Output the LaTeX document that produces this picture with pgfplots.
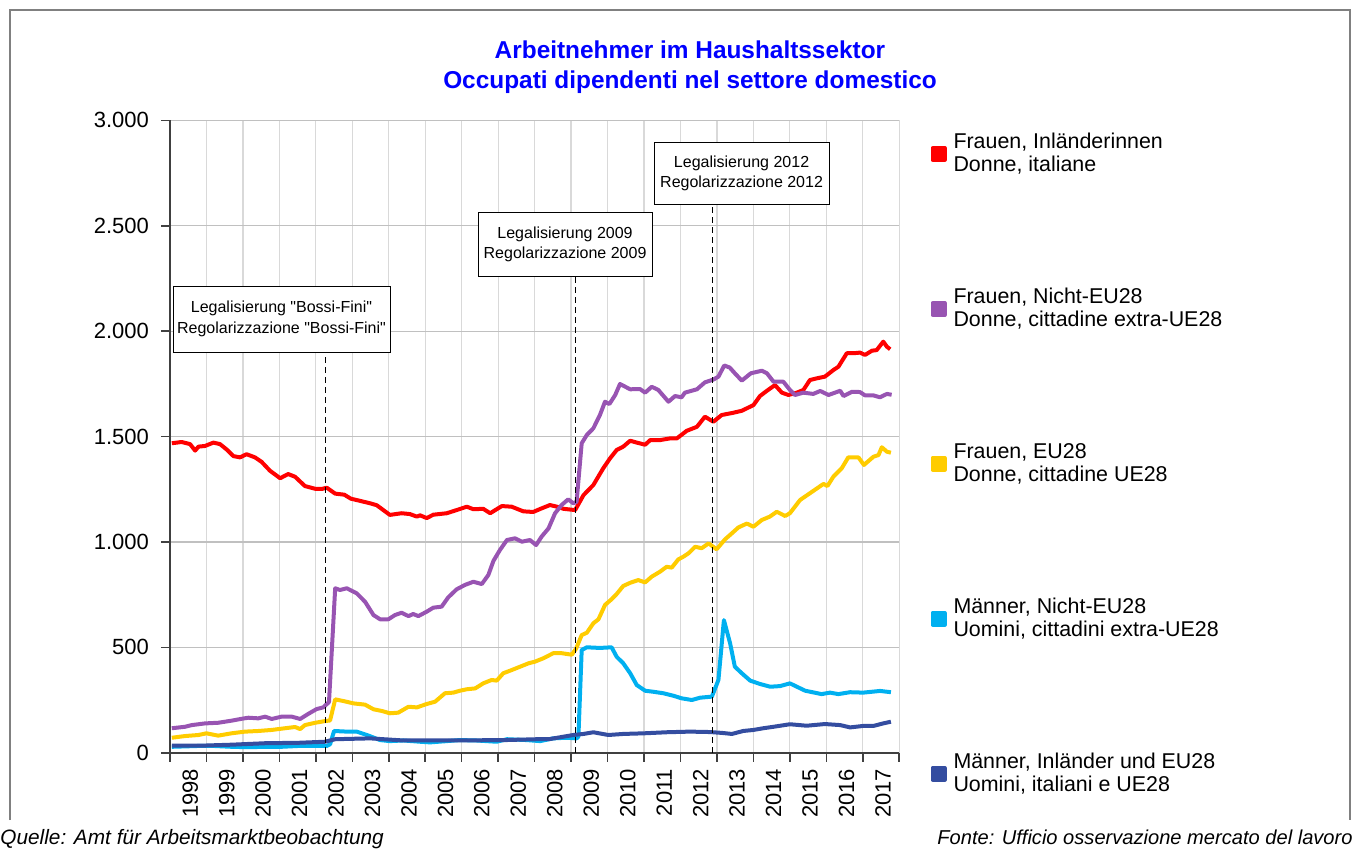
\documentclass[border=0pt]{standalone}
\usepackage{fontspec}
\setmainfont{Liberation Sans}
\usepackage{pgfplots}
\pgfplotsset{compat=1.18}

\definecolor{serRed}{RGB}{255,0,0}
\definecolor{serPurple}{RGB}{152,84,178}
\definecolor{serYellow}{RGB}{255,204,0}
\definecolor{serCyan}{RGB}{0,176,240}
\definecolor{serNavy}{RGB}{52,77,160}
\definecolor{gridV}{RGB}{217,217,217}
\definecolor{gridH}{RGB}{192,192,192}
\definecolor{axisGray}{RGB}{64,64,64}
\definecolor{titleBlue}{RGB}{0,0,255}

\begin{document}
\begin{tikzpicture}
\useasboundingbox (0pt,0pt) rectangle (680pt,424pt);
% frame
\draw[gray, line width=0.6pt] (5pt,14pt) -- (5pt,419pt) -- (675pt,419pt) -- (675pt,14pt);
% title
\node[align=center, font=\bfseries\fontsize{12.2}{15}\selectfont, text=titleBlue]
  at (345pt,390.5pt) {Arbeitnehmer im Haushaltssektor\\Occupati dipendenti nel settore domestico};
% sources
\node[anchor=base west, inner sep=0pt, font=\itshape\fontsize{10.4}{12}\selectfont] at (0pt,2pt)
  {Quelle: Amt für Arbeitsmarktbeobachtung};
\node[anchor=base east, inner sep=0pt, font=\itshape\fontsize{10.05}{12}\selectfont] at (676.5pt,2pt)
  {Fonte: Ufficio osservazione mercato del lavoro};

\begin{axis}[
  at={(85pt,47.65pt)}, anchor=south west,
  scale only axis, width=364.65pt, height=316.2pt,
  xmin=1998, xmax=2018, ymin=0, ymax=3000,
  axis x line*=bottom, axis y line*=left,
  axis line style={draw=axisGray, line width=1pt, -},
  tick align=outside,
  tick style={draw=axisGray, line width=0.8pt},
  major tick length=4.5pt,
  xtick={1998,...,2018},
  x tick label as interval,
  ytick={0,500,...,3000},
  yticklabels={0,500,{1.000},{1.500},{2.000},{2.500},{3.000}},
  grid=major,
  x grid style={gridV, line width=0.6pt},
  y grid style={gridH, line width=0.6pt},
  ticklabel style={font=\fontsize{11}{13}\selectfont},
  /pgf/number format/assume math mode=true,
  xticklabel style={rotate=90, anchor=east, yshift=-1pt, /pgf/number format/1000 sep={}},
  yticklabel style={xshift=-2.5pt},
  legend cell align=left,
  legend style={at={(1.0428,0.980)}, anchor=north west, draw=none, fill=none,
    inner sep=0pt, outer sep=0pt, row sep=56.6pt, column sep=3.5pt,
    font=\fontsize{10.7}{11.7}\selectfont, nodes={align=left, inner sep=0pt}},
  legend image code/.code={\fill[#1] (0pt,-3pt) rectangle (6pt,3pt);},
  every axis plot/.append style={line width=2pt, line join=round, no marks},
]

\addplot[color=serRed] coordinates {
(1998.05,1468) (1998.32,1474) (1998.55,1464) (1998.69,1433) (1998.78,1452) (1998.96,1455)
(1999.19,1471) (1999.37,1464) (1999.55,1439) (1999.74,1407) (1999.92,1401) (2000.10,1416)
(2000.33,1401) (2000.51,1380) (2000.74,1338) (2001.02,1302) (2001.24,1322) (2001.43,1309)
(2001.70,1265) (2001.98,1252) (2002.16,1251) (2002.30,1257) (2002.53,1229) (2002.78,1224)
(2002.96,1205) (2003.23,1194) (2003.49,1183) (2003.67,1174) (2003.85,1151) (2004.03,1128)
(2004.35,1136) (2004.58,1132) (2004.77,1120) (2004.86,1126) (2005.04,1113) (2005.22,1129)
(2005.59,1136) (2005.86,1151) (2006.14,1167) (2006.32,1155) (2006.59,1157) (2006.78,1136)
(2007.10,1170) (2007.37,1167) (2007.69,1145) (2007.96,1142) (2008.19,1159) (2008.42,1175)
(2008.61,1167) (2008.79,1157) (2009.11,1151) (2009.34,1222) (2009.61,1270) (2009.88,1349)
(2010.07,1397) (2010.25,1436) (2010.43,1452) (2010.62,1480) (2010.80,1471) (2011.03,1461)
(2011.17,1483) (2011.44,1483) (2011.71,1491) (2011.90,1491) (2012.17,1527) (2012.45,1546)
(2012.67,1594) (2012.90,1570) (2013.13,1602) (2013.43,1612) (2013.68,1622) (2014.00,1649)
(2014.18,1692) (2014.37,1717) (2014.59,1744) (2014.78,1708) (2014.96,1697) (2015.19,1708)
(2015.37,1721) (2015.55,1768) (2015.74,1776) (2015.96,1784) (2016.19,1815) (2016.33,1831)
(2016.56,1895) (2016.74,1895) (2016.92,1898) (2017.06,1887) (2017.25,1907) (2017.38,1910)
(2017.56,1950) (2017.66,1926) (2017.75,1914)
};
\addlegendentry{Frauen, Inländerinnen\\Donne, italiane}

\addplot[color=serPurple] coordinates {
(1998.05,116) (1998.41,123) (1998.60,131) (1998.96,139) (1999.32,142) (1999.69,152)
(1999.97,161) (2000.15,166) (2000.42,163) (2000.61,171) (2000.79,160) (2001.06,171)
(2001.34,171) (2001.57,160) (2001.79,184) (2002.02,207) (2002.20,215) (2002.36,240)
(2002.53,780) (2002.66,772) (2002.85,780) (2003.12,756) (2003.35,716) (2003.58,653)
(2003.76,633) (2003.99,633) (2004.17,653) (2004.35,664) (2004.54,648) (2004.67,658)
(2004.81,648) (2005.04,669) (2005.22,688) (2005.45,693) (2005.63,737) (2005.86,775)
(2006.09,796) (2006.32,811) (2006.55,800) (2006.73,843) (2006.87,910) (2007.05,962)
(2007.24,1009) (2007.46,1017) (2007.65,1001) (2007.87,1009) (2008.04,985) (2008.19,1025)
(2008.38,1064) (2008.56,1136) (2008.74,1175) (2008.92,1202) (2009.06,1183) (2009.15,1190)
(2009.29,1468) (2009.43,1507) (2009.61,1539) (2009.79,1602) (2009.93,1665) (2010.05,1654)
(2010.21,1697) (2010.34,1749) (2010.62,1724) (2010.89,1725) (2011.03,1708) (2011.21,1736)
(2011.39,1721) (2011.67,1665) (2011.85,1692) (2012.03,1686) (2012.12,1708) (2012.45,1724)
(2012.67,1757) (2012.90,1770) (2013.04,1784) (2013.20,1837) (2013.35,1827) (2013.49,1800)
(2013.68,1765) (2013.93,1800) (2014.23,1812) (2014.37,1800) (2014.55,1760) (2014.82,1760)
(2015.00,1721) (2015.14,1697) (2015.37,1708) (2015.64,1702) (2015.83,1716) (2016.06,1697)
(2016.38,1717) (2016.47,1692) (2016.70,1712) (2016.92,1711) (2017.06,1695) (2017.29,1695)
(2017.47,1686) (2017.66,1702) (2017.79,1698)
};
\addlegendentry{Frauen, Nicht-EU28\\Donne, cittadine extra-UE28}

\addplot[color=serYellow] coordinates {
(1998.05,71) (1998.41,79) (1998.78,84) (1999.00,92) (1999.32,81) (1999.69,92)
(2000.06,100) (2000.42,103) (2000.79,108) (2001.15,116) (2001.43,122) (2001.57,112)
(2001.70,131) (2001.98,142) (2002.25,150) (2002.39,153) (2002.53,253) (2002.76,245)
(2003.03,234) (2003.35,228) (2003.58,206) (2003.81,198) (2004.03,187) (2004.26,190)
(2004.54,218) (2004.77,215) (2005.04,231) (2005.27,242) (2005.54,282) (2005.77,285)
(2005.95,294) (2006.14,301) (2006.37,305) (2006.59,329) (2006.82,345) (2006.96,342)
(2007.14,377) (2007.37,392) (2007.60,408) (2007.83,424) (2008.01,432) (2008.24,448)
(2008.51,472) (2008.74,472) (2009.02,465) (2009.14,495) (2009.29,558) (2009.43,569)
(2009.61,614) (2009.75,633) (2009.93,701) (2010.11,728) (2010.25,753) (2010.43,791)
(2010.62,806) (2010.84,819) (2011.03,808) (2011.21,835) (2011.44,859) (2011.62,882)
(2011.76,878) (2011.94,917) (2012.08,930) (2012.22,946) (2012.40,977) (2012.58,970)
(2012.77,993) (2012.99,965) (2013.22,1012) (2013.41,1041) (2013.59,1069) (2013.82,1087)
(2014.00,1072) (2014.23,1104) (2014.45,1120) (2014.64,1143) (2014.87,1123) (2015.00,1136)
(2015.28,1199) (2015.55,1231) (2015.92,1275) (2016.03,1265) (2016.19,1309) (2016.42,1349)
(2016.60,1401) (2016.88,1401) (2017.03,1365) (2017.29,1404) (2017.43,1412) (2017.52,1449)
(2017.66,1428) (2017.77,1423)
};
\addlegendentry{Frauen, EU28\\Donne, cittadine UE28}

\addplot[color=serCyan] coordinates {
(1998.05,28) (1998.78,32) (1999.20,32) (1999.69,28) (2000.15,26) (2000.61,28)
(2001.06,28) (2001.52,32) (2001.98,33) (2002.30,32) (2002.39,40) (2002.50,103)
(2002.85,100) (2003.12,100) (2003.40,84) (2003.76,60) (2004.03,55) (2004.40,58)
(2004.86,52) (2005.13,49) (2005.59,55) (2005.95,60) (2006.40,58) (2006.96,52)
(2007.24,64) (2007.78,60) (2008.15,55) (2008.51,68) (2008.88,71) (2009.15,68)
(2009.20,76) (2009.29,487) (2009.43,500) (2009.79,497) (2010.11,500) (2010.25,455)
(2010.43,424) (2010.62,377) (2010.80,321) (2011.03,294) (2011.26,289) (2011.53,282)
(2011.81,270) (2012.03,258) (2012.31,250) (2012.54,261) (2012.86,266) (2013.04,345)
(2013.19,629) (2013.36,519) (2013.49,408) (2013.68,377) (2013.91,342) (2014.18,326)
(2014.46,313) (2014.73,316) (2015.00,329) (2015.19,313) (2015.42,294) (2015.87,278)
(2016.10,285) (2016.33,278) (2016.65,287) (2017.01,285) (2017.47,293) (2017.77,287)
};
\addlegendentry{Männer, Nicht-EU28\\Uomini, cittadini extra-UE28}

\addplot[color=serNavy] coordinates {
(1998.05,33) (1998.78,33) (1999.69,38) (2000.61,45) (2001.52,47) (2002.25,52)
(2002.53,64) (2003.49,68) (2004.40,58) (2005.80,58) (2007.20,60) (2008.06,64)
(2008.42,65) (2009.06,84) (2009.34,89) (2009.61,97) (2010.02,84) (2010.43,89)
(2011.00,92) (2011.62,97) (2012.26,100) (2012.81,98) (2013.13,94) (2013.41,89)
(2013.72,103) (2014.00,108) (2014.27,116) (2014.55,123) (2015.00,135) (2015.46,128)
(2015.96,136) (2016.38,131) (2016.65,120) (2017.01,127) (2017.29,127) (2017.56,139)
(2017.77,147)
};
\addlegendentry{Männer, Inländer und EU28\\Uomini, italiani e UE28}

% legalisation markers
\draw[black, line width=0.6pt, dash pattern=on 3pt off 2pt] (axis cs:2002.27,0) -- (axis cs:2002.27,1901);
\draw[black, line width=0.6pt, dash pattern=on 3pt off 2pt] (axis cs:2009.12,0) -- (axis cs:2009.12,2261);
\draw[black, line width=0.6pt, dash pattern=on 3pt off 2pt] (axis cs:2012.87,0) -- (axis cs:2012.87,2603);
\node[draw=black, fill=white, line width=0.5pt, inner sep=0pt, align=center,
  minimum width=108.5pt, minimum height=33pt, font=\fontsize{8}{10.5}\selectfont]
  at (axis cs:2001.058,2057) {Legalisierung \textquotedbl Bossi-Fini\textquotedbl\\Regolarizzazione \textquotedbl Bossi-Fini\textquotedbl};
\node[draw=black, fill=white, line width=0.5pt, inner sep=0pt, align=center,
  minimum width=87pt, minimum height=32pt, font=\fontsize{8}{10}\selectfont]
  at (axis cs:2008.834,2413) {Legalisierung 2009\\Regolarizzazione 2009};
\node[draw=black, fill=white, line width=0.5pt, inner sep=0pt, align=center,
  minimum width=87.5pt, minimum height=31pt, font=\fontsize{8}{10}\selectfont]
  at (axis cs:2013.675,2750) {Legalisierung 2012\\Regolarizzazione 2012};
\end{axis}
\end{tikzpicture}
\end{document}
